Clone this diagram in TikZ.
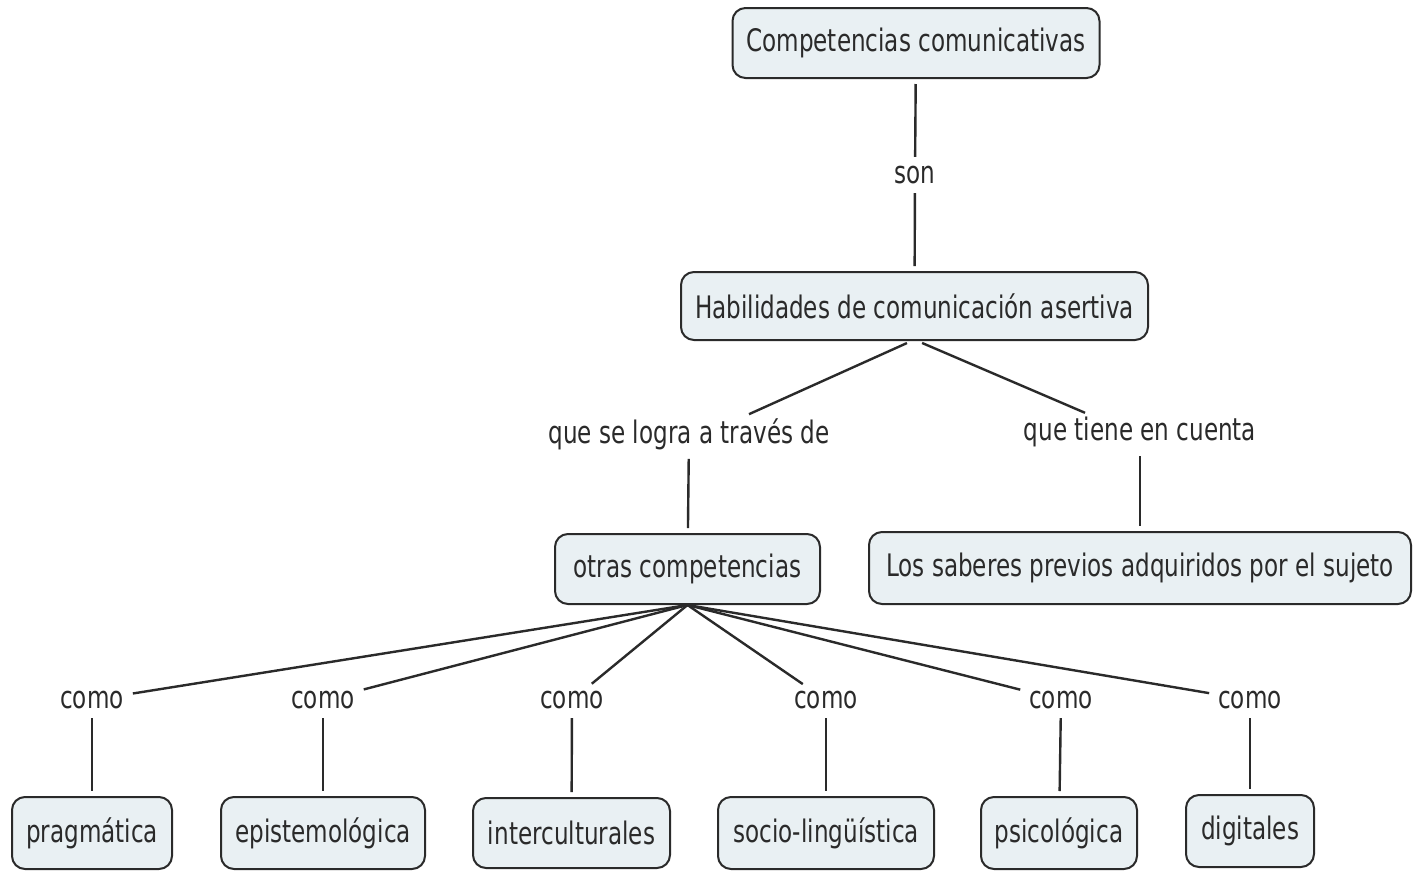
\documentclass[tikz,border=0pt]{standalone}
\usepackage{fontspec}
\setmainfont[FakeStretch=0.745]{DejaVu Sans}
\definecolor{boxfill}{HTML}{E9F0F3}
\definecolor{ink}{HTML}{2A2A2A}
\tikzset{
  concept/.style={draw=ink, line width=2pt, fill=boxfill, rounded corners=13pt,
    inner sep=0pt, font=\fontsize{31}{36}\selectfont, text=ink},
  linkword/.style={inner sep=4pt, font=\fontsize{31}{36}\selectfont, text=ink},
  conn/.style={draw=ink, line width=2.4pt, shorten <=5pt, shorten >=5pt}
}
\begin{document}
\begin{tikzpicture}[x=1pt,y=-1pt]
\useasboundingbox (0,0) rectangle (1417,871);
\fill[white] (0,0) rectangle (1417,871);
% concepts
\node[concept, minimum width=367pt, minimum height=70pt] (cc) at (916,43) {Competencias comunicativas};
\node[concept, minimum width=467pt, minimum height=68pt] (hab) at (914.5,306) {Habilidades de comunicación asertiva};
\node[concept, minimum width=265pt, minimum height=70pt] (otras) at (687.5,569) {otras competencias};
\node[concept, minimum width=542pt, minimum height=72pt] (sab) at (1140,568) {Los saberes previos adquiridos por el sujeto};
\node[concept, minimum width=160pt, minimum height=72pt] (prag) at (92,833) {pragmática};
\node[concept, minimum width=204pt, minimum height=72pt] (epis) at (323,833) {epistemológica};
\node[concept, minimum width=197pt, minimum height=70pt] (inter) at (571.5,833) {interculturales};
\node[concept, minimum width=216pt, minimum height=72pt] (socio) at (826,833) {socio-lingüística};
\node[concept, minimum width=156pt, minimum height=72pt] (psic) at (1059,833) {psicológica};
\node[concept, minimum width=128pt, minimum height=72pt] (dig) at (1250,831) {digitales};
% linking words
\node[linkword] (son) at (915,175) {son};
\node[linkword] (logra) at (689,434) {que se logra a través de};
\node[linkword] (tiene) at (1140,432) {que tiene en cuenta};
\node[linkword] (c1) at (92,700) {como};
\node[linkword] (c2) at (323,700) {como};
\node[linkword] (c3) at (572,700) {como};
\node[linkword] (c4) at (826,700) {como};
\node[linkword] (c5) at (1061,700) {como};
\node[linkword] (c6) at (1250,700) {como};
% connectors
\draw[conn] (cc) -- (son);
\draw[conn] (son) -- (hab);
\draw[conn, shorten <=0pt] ([xshift=60pt]logra.north) -- ([xshift=-3pt]hab.south);
\draw[conn, shorten <=0pt] ([xshift=-55pt]tiene.north) -- ([xshift=3pt]hab.south);
\draw[conn] (logra) -- (otras);
\draw[conn] (tiene) -- (sab);
\foreach \c in {c1,c2,c3,c4,c5,c6}{
  \draw[conn, shorten <=0pt] (otras.south) -- (\c);
}
\draw[conn] (c1) -- (prag);
\draw[conn] (c2) -- (epis);
\draw[conn] (c3) -- (inter);
\draw[conn] (c4) -- (socio);
\draw[conn] (c5) -- (psic);
\draw[conn] (c6) -- (dig);
\end{tikzpicture}
\end{document}
